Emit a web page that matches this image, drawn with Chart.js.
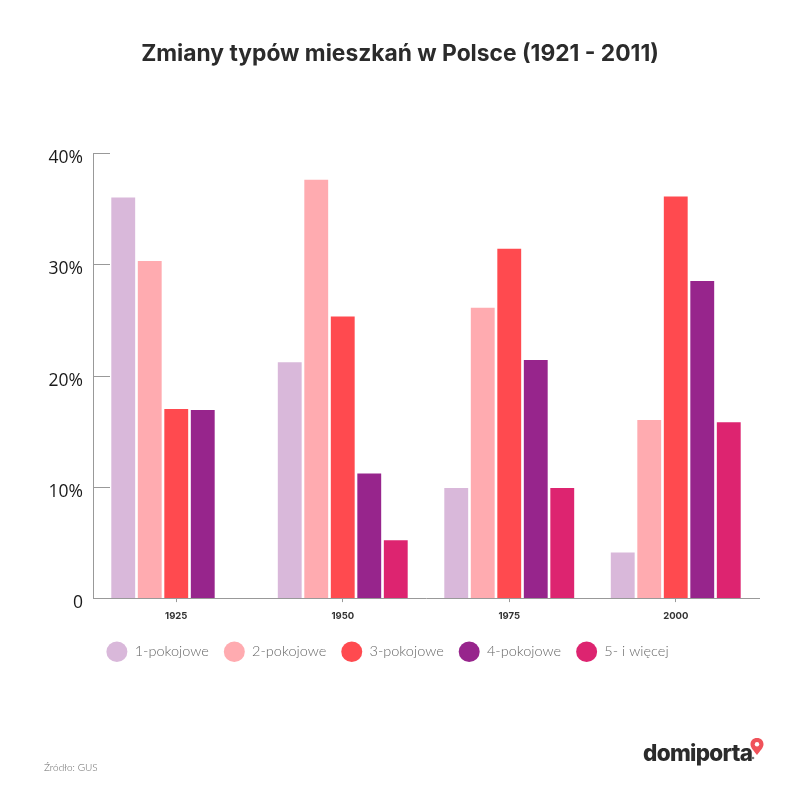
<!DOCTYPE html>
<html>
<head>
<meta charset="utf-8">
<script src="https://cdn.jsdelivr.net/npm/chart.js@4"></script>
<style>
  body { margin: 0; background: #fff; }
  #wrap { position: relative; width: 800px; height: 800px; overflow: hidden; }
  #title { position: absolute; left: 0; width: 800px; top: 39px; margin: 0; text-align: center; font: 700 22.8px/28px Inter, sans-serif; color: #2b2b2b; }
  #source { position: absolute; left: 44px; top: 761px; font: 300 10px Lato, sans-serif; color: #666; }
  #logo { position: absolute; left: 643px; top: 739px; font: 800 22.5px Inter, sans-serif; letter-spacing: -0.7px; color: #2b2b2b; }
  #pin { position: absolute; left: 750px; top: 738px; }
  canvas { display: block; }
</style>
</head>
<body>
<div id="wrap">
  <canvas id="chart" width="800" height="800"></canvas>
  <h1 id="title">Zmiany typów mieszkań w Polsce (1921 - 2011)</h1>
  <div id="source">Źródło: GUS</div>
  <div id="logo">domiporta</div>
  <svg id="pin" width="14" height="23" viewBox="0 0 14 23">
    <path d="M7 0C3 0 0.5 2.6 0.5 6.2 0.5 10 4.6 13.5 7 17 9.4 13.5 13.5 10 13.5 6.2 13.5 2.6 11 0 7 0Z" fill="#f0525a"/>
    <circle cx="7" cy="6.2" r="2.2" fill="#fff"/>
    <circle cx="3" cy="20" r="1.3" fill="#777"/>
  </svg>
</div>
<script>
const categories = ['1925', '1950', '1975', '2000'];
const seriesNames = ['1-pokojowe', '2-pokojowe', '3-pokojowe', '4-pokojowe', '5- i więcej'];
const colors = ['#d9b8da', '#ffabb0', '#ff4a4f', '#97258c', '#dd2470'];
const rooms1 = [36, 21.2, 9.9, 4.1];
const rooms2 = [30.3, 37.6, 26.1, 16];
const rooms3 = [17, 25.3, 31.4, 36.1];
const rooms4 = [16.9, 11.2, 21.4, 28.5];
const rooms5 = [null, 5.2, 9.9, 15.8];
const yTicks = [0, 10, 20, 30, 40];
const yLabels = ['0', '10%', '20%', '30%', '40%'];

const allValues = [rooms1, rooms2, rooms3, rooms4, rooms5];

// short tick lines going into the plot, behind the bars
const innerTicks = {
  id: 'innerTicks',
  beforeDatasetsDraw(chart) {
    const { ctx, scales, chartArea } = chart;
    ctx.save();
    ctx.strokeStyle = '#999';
    ctx.lineWidth = 1;
    yTicks.forEach(v => {
      if (v === 0) return;
      const y = Math.round(scales.y.getPixelForValue(v)) + 0.5;
      ctx.beginPath();
      ctx.moveTo(chartArea.left, y);
      ctx.lineTo(chartArea.left + 17, y);
      ctx.stroke();
    });
    ctx.restore();
  }
};

new Chart(document.getElementById('chart').getContext('2d'), {
  type: 'bar',
  data: {
    labels: categories,
    datasets: seriesNames.map((name, i) => ({
      label: name,
      data: allValues[i],
      backgroundColor: colors[i],
      barPercentage: 0.9,
      categoryPercentage: 0.796
    }))
  },
  options: {
    responsive: false,
    animation: false,
    layout: { padding: { left: 16, right: 41, top: 153, bottom: 131 } },
    plugins: {
      legend: {
        position: 'bottom',
        labels: {
          usePointStyle: true,
          pointStyle: 'circle',
          pointStyleWidth: 21,
          boxHeight: 14.5,
          padding: 15,
          color: '#666',
          font: { family: 'Lato', size: 14.5, weight: '300' }
        }
      },
      tooltip: { enabled: false }
    },
    scales: {
      x: {
        border: { color: '#999' },
        grid: { drawOnChartArea: false, offset: false, tickLength: 4, color: '#999' },
        ticks: { color: '#333', padding: 8, font: { family: 'Inter', size: 9.5, weight: '700' } }
      },
      y: {
        min: 0,
        max: 40,
        afterFit(scale) { scale.width = 77; },
        afterBuildTicks(scale) { scale.ticks = yTicks.map(v => ({ value: v })); },
        border: { color: '#999' },
        grid: { display: false },
        ticks: {
          color: '#1a1a1a',
          padding: 2,
          labelOffset: 5,
          font: { family: 'Open Sans', size: 17.5 },
          callback: v => yLabels[yTicks.indexOf(v)]
        }
      }
    }
  },
  plugins: [innerTicks]
});
</script>
</body>
</html>
